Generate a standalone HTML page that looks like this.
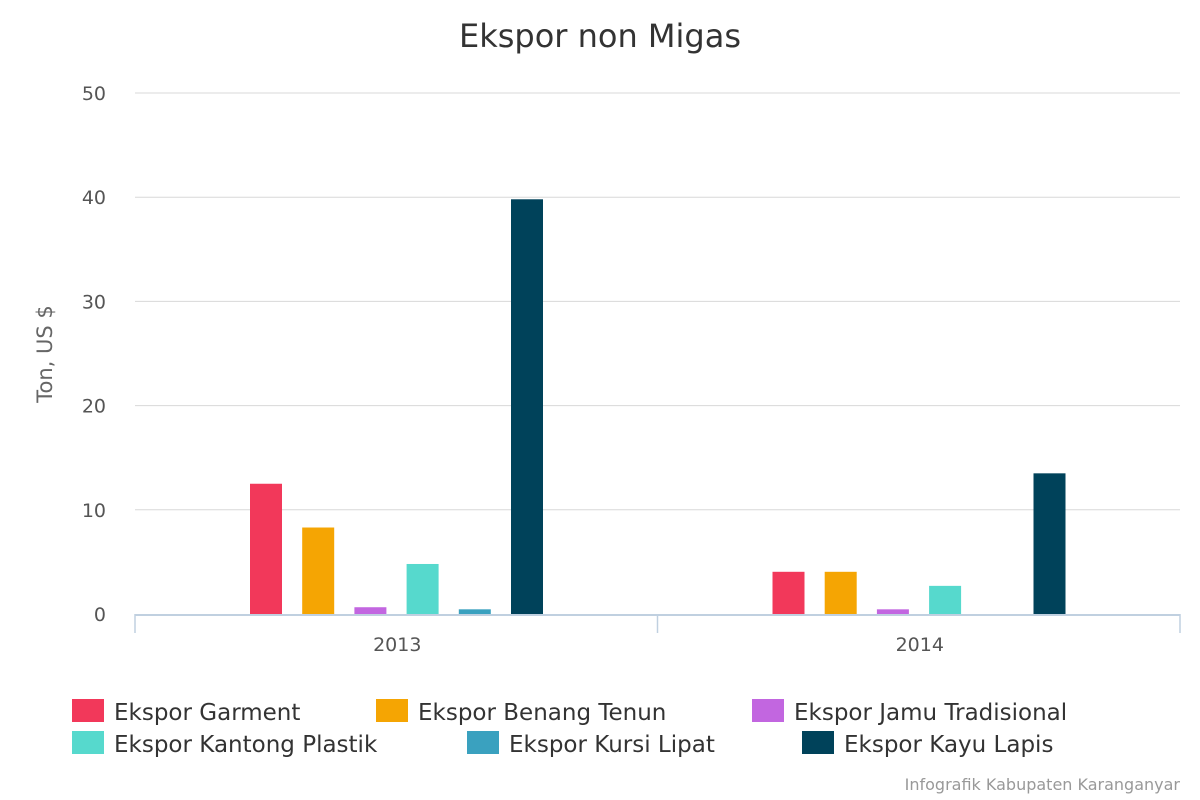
<!DOCTYPE html>
<html><head><meta charset="utf-8"><style>
body{margin:0;background:#fff;font-family:"DejaVu Sans","Liberation Sans",sans-serif;}
svg{display:block}
</style></head><body>
<svg id="chart" width="1200" height="800">
<text x="600" y="47" text-anchor="middle" font-size="32" fill="#333">Ekspor non Migas</text>
<g id="grid"></g><g id="bars"></g><g id="axes"></g><g id="legend"></g>
<text x="1180" y="790" text-anchor="end" font-size="16" fill="#999">Infografik Kabupaten Karanganyar</text>
</svg>
<script>
const categories=["2013","2014"];
const seriesNames=["Ekspor Garment","Ekspor Benang Tenun","Ekspor Jamu Tradisional","Ekspor Kantong Plastik","Ekspor Kursi Lipat","Ekspor Kayu Lapis"];
const seriesColors=["#f2385a","#f5a503","#c266e0","#56d9cd","#3aa1bf","#00425a"];
const values2013=[12.5,8.3,0.65,4.8,0.45,39.8];
const values2014=[4.05,4.05,0.45,2.7,0,13.5];
const yTicks=[0,10,20,30,40,50];
const seriesValues=seriesNames.map((n,i)=>[values2013[i],values2014[i]]);
const NS="http://www.w3.org/2000/svg";
const x0=135,x1=1180,y0=614,y50=93;
const yScale=v=>y0-(v/50)*(y0-y50);
const catW=(x1-x0)/categories.length;
function mk(t,a,p,txt){const e=document.createElementNS(NS,t);for(const k in a)e.setAttribute(k,a[k]);if(txt!==undefined)e.textContent=txt;p.appendChild(e);return e;}
const grid=document.getElementById('grid'),bars=document.getElementById('bars'),axes=document.getElementById('axes'),legend=document.getElementById('legend');
yTicks.forEach(t=>{
 const y=yScale(t);
 if(t>0){const l=mk('line',{x1:x0,x2:x1,y1:y,y2:y,stroke:'#d8d8d8','stroke-width':1},grid);
 
 }
 const tx=mk('text',{x:106,y:y+7,'text-anchor':'end','font-size':19,fill:'#555'},axes,String(t));
 
 
});
const yt=mk('text',{x:52,y:354,'text-anchor':'middle','font-size':21,fill:'#666',transform:'rotate(-90 52 354)'},axes,'Ton, US $');


const xa=mk('line',{x1:x0,x2:x1,y1:y0+1,y2:y0+1,stroke:'#c0d0e0','stroke-width':2},axes);


for(let c=0;c<=categories.length;c++){const xx=x0+c*catW;const tk=mk('line',{x1:xx,x2:xx,y1:y0,y2:y0+19,stroke:'#c0d0e0','stroke-width':1.5},axes);
 
 }
categories.forEach((c,ci)=>{
 const lb=mk('text',{x:x0+ci*catW+catW/2+1,y:651,'text-anchor':'middle','font-size':19,fill:'#555'},axes,c);
 
 
 seriesValues.forEach((vals,si)=>{
  const v=vals[ci];const cx=x0+ci*catW+131+si*52.2;const top=yScale(v);
  const r=mk('rect',{x:cx-16,y:top,width:32,height:Math.max(0,y0-top),fill:seriesColors[si]},bars);
  
  
 });
});
const legPos=[[72,711],[376,711],[752,711],[72,743],[467,743],[802,743]];
seriesNames.forEach((n,i)=>{
 const [lx,ly]=legPos[i];
 const g=mk('g',{},legend);
 
 
 mk('rect',{x:lx,y:ly-12,width:32,height:23,fill:seriesColors[i]},g);
 mk('text',{x:lx+42,y:ly+9,'font-size':23,fill:'#333'},g,n);
});
</script>
</body></html>
